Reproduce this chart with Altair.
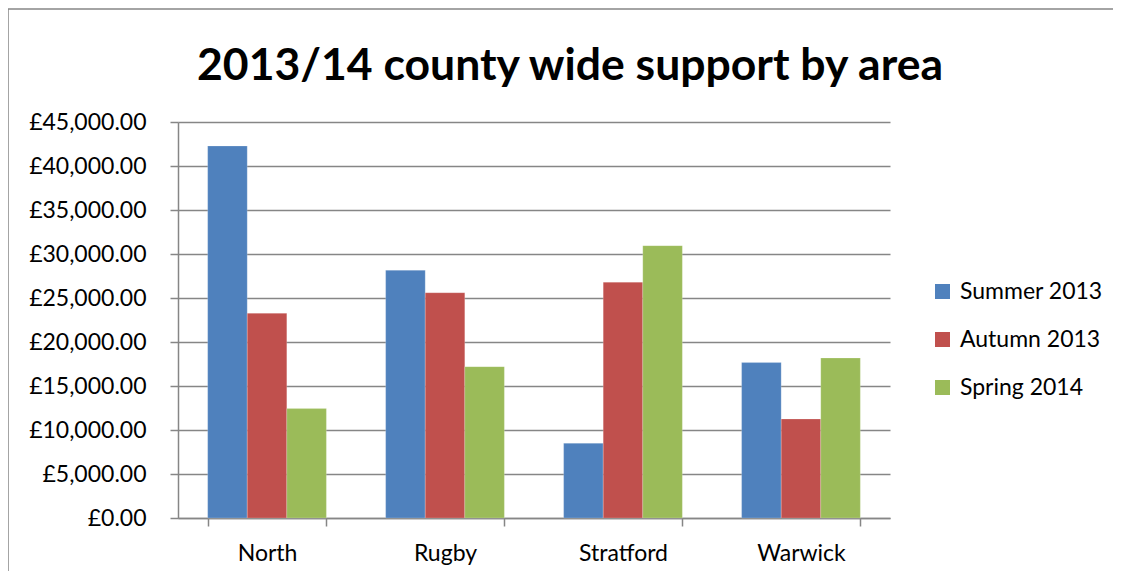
import altair as alt
import pandas as pd

areas = ["North", "Rugby", "Stratford", "Warwick"]
terms = ["Summer 2013", "Autumn 2013", "Spring 2014"]
summer_2013 = [42270, 28150, 8490, 17660]
autumn_2013 = [23260, 25600, 26800, 11250]
spring_2014 = [12430, 17200, 30950, 18180]
colors = ["#4F81BD", "#C0504D", "#9BBB59"]
y_ticks = [0, 5000, 10000, 15000, 20000, 25000, 30000, 35000, 40000, 45000]

rows = []
for term, vals in zip(terms, [summer_2013, autumn_2013, spring_2014]):
    for a, v in zip(areas, vals):
        rows.append({"Area": a, "Term": term, "Value": v})
df = pd.DataFrame(rows)

FONT = "Lato"
GRID = "#868686"
LS = 23

bars = alt.Chart(df).mark_bar(stroke="white", strokeWidth=0.4, strokeOpacity=0.5).encode(
    x=alt.X("Area:N", sort=areas, title=None,
            scale=alt.Scale(paddingInner=0.333, paddingOuter=0.1667),
            axis=alt.Axis(labelAngle=0, labelFontSize=LS, labelFont=FONT, labelColor="black",
                          tickBand="extent", tickSize=8, tickColor=GRID, tickWidth=1.5,
                          domainColor=GRID, domainWidth=1.5, labelPadding=16)),
    xOffset=alt.XOffset("Term:N", sort=terms),
    y=alt.Y("Value:Q", title=None,
            scale=alt.Scale(domain=[0, 45000], nice=False),
            axis=alt.Axis(values=y_ticks, labelExpr="'£' + format(datum.value, ',.2f')",
                          labelFontSize=LS, labelFont=FONT, labelColor="black",
                          tickSize=8, tickColor=GRID, tickWidth=1.5,
                          domainColor=GRID, domainWidth=1.5, labelPadding=24,
                          grid=True, gridColor=GRID, gridWidth=1.5)),
    color=alt.Color("Term:N", sort=terms, scale=alt.Scale(domain=terms, range=colors),
                    legend=alt.Legend(title=None, orient="none", legendX=753, legendY=158,
                                      symbolType="square", symbolSize=225, symbolStrokeWidth=0,
                                      labelFontSize=LS, labelFont=FONT, labelColor="black",
                                      rowPadding=24, labelOffset=6)),
)

frame = alt.Chart(pd.DataFrame({"k": [0]})).mark_rect(fill=None, stroke="#868686", strokeWidth=1.5).encode(
    x=alt.value(-170), x2=alt.value(1000), y=alt.value(-113), y2=alt.value(470)
)

chart = alt.layer(frame, bars).properties(
    width=712, height=396,
    autosize=alt.AutoSizeParams(type="none"),
    padding={"left": 170, "top": 114, "right": 223, "bottom": 53},
    title=alt.Title("2013/14 county wide support by area", fontSize=44.5, font=FONT,
                    fontWeight="bold", color="black", offset=-81, dx=36, anchor="middle"),
).configure_view(stroke=None)

chart.save("out.html", embed_options={"renderer": "svg", "actions": False})
